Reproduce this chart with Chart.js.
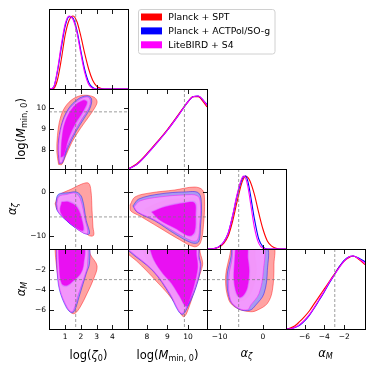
<!DOCTYPE html>
<html><head><meta charset="utf-8">
<script src="https://cdn.jsdelivr.net/npm/chart.js@4.4.0/dist/chart.umd.min.js"></script>
<style>
html,body{margin:0;padding:0;background:#fff;}
#wrap{position:relative;width:374px;height:373px;overflow:hidden;background:#fff;}
#wrap canvas{position:absolute;left:0;top:0;}
</style></head><body><div id="wrap"></div>
<script>
// ---------------- data ----------------
const seriesNames = ['Planck + SPT', 'Planck + ACTPol/SO-g', 'LiteBIRD + S4'];
const seriesColors = ['#ff0000', '#0000ff', '#ff00ff'];

const paramRanges = [[-0.03, 5.0], [7.08, 10.93], [-12.9, 5.3], [-7.87, 0.1]];
const paramTicks = [[1, 2, 3, 4], [8, 9, 10], [-10, 0], [-6, -4, -2]];
const paramTickLabels = [['1', '2', '3', '4'], ['8', '9', '10'], ['\u221210', '0'], ['\u22126', '\u22124', '\u22122']];
const fiducials = [1.67, 9.83, -5.6, -2.95];
const paramLabels = [
  [{t: 'log('}, {t: '\u03b6', it: true}, {t: '0', sub: true}, {t: ')'}],
  [{t: 'log('}, {t: 'M', it: true}, {t: 'min, 0', sub: true}, {t: ')'}],
  [{t: '\u03b1', it: true}, {t: '\u03b6', it: true, sub: true}],
  [{t: '\u03b1', it: true}, {t: 'M', it: true, sub: true}]
];

// 1D marginals
const zetaGrid = [-0.03, 0.25, 0.5, 0.75, 1.0, 1.25, 1.5, 1.75, 2.0, 2.25, 2.5, 2.75, 3.0, 3.25, 3.5, 4.0, 5.0];
const zetaRed = [0, 0.005, 0.12, 0.4, 0.74, 0.94, 1.0, 0.92, 0.72, 0.48, 0.27, 0.12, 0.04, 0.01, 0, 0, 0];
const zetaBlue = [0, 0.02, 0.23, 0.56, 0.86, 0.99, 0.97, 0.8, 0.52, 0.26, 0.09, 0.02, 0, 0, 0, 0, 0];
const zetaMagenta = [0, 0.02, 0.25, 0.6, 0.89, 1.0, 0.95, 0.77, 0.48, 0.22, 0.06, 0.01, 0, 0, 0, 0, 0];

const mminGrid = [7.08, 7.5, 8.0, 8.5, 9.0, 9.5, 10.0, 10.25, 10.5, 10.75, 10.93];
const mminRed = [0, 0.07, 0.21, 0.37, 0.54, 0.73, 0.92, 0.99, 0.99, 0.92, 0.85];
const mminBlue = [0, 0.06, 0.2, 0.36, 0.53, 0.72, 0.92, 0.99, 1.0, 0.94, 0.88];
const mminMagenta = [0, 0.06, 0.2, 0.36, 0.53, 0.72, 0.92, 0.99, 1.0, 0.94, 0.87];

const azGrid = [-12.9, -12, -11, -10, -9, -8, -7, -6, -5, -4.5, -4, -3.5, -3, -2, -1, 0, 1, 2, 3, 4, 5.3];
const azRed = [0, 0, 0.01, 0.03, 0.08, 0.18, 0.38, 0.64, 0.88, 0.96, 1.0, 0.98, 0.93, 0.75, 0.5, 0.27, 0.11, 0.04, 0.01, 0, 0];
const azBlue = [0, 0, 0.01, 0.04, 0.1, 0.22, 0.45, 0.72, 0.93, 0.99, 1.0, 0.93, 0.78, 0.42, 0.14, 0.03, 0, 0, 0, 0, 0];
const azMagenta = [0, 0, 0.01, 0.04, 0.1, 0.22, 0.46, 0.74, 0.95, 1.0, 0.97, 0.86, 0.68, 0.3, 0.08, 0.01, 0, 0, 0, 0, 0];

const amGrid = [-7.87, -7.5, -7, -6.5, -6, -5.5, -5, -4.5, -4, -3.5, -3, -2.5, -2, -1.5, -1.1, -0.5, 0.1];
const amRed = [0, 0.01, 0.04, 0.1, 0.17, 0.25, 0.35, 0.45, 0.55, 0.65, 0.75, 0.85, 0.93, 0.98, 1.0, 0.95, 0.88];
const amBlue = [0, 0, 0.02, 0.05, 0.11, 0.19, 0.29, 0.4, 0.51, 0.63, 0.74, 0.85, 0.94, 0.99, 1.0, 0.97, 0.92];
const amMagenta = [0, 0, 0.02, 0.06, 0.12, 0.2, 0.3, 0.41, 0.52, 0.64, 0.74, 0.84, 0.93, 0.99, 1.0, 0.96, 0.9];

// 2D contours: flat [x1,y1,x2,y2,...], outer (95%) and inner (68%)
// logMmin0 vs logzeta0
const p10RedOuter = [0.58,7.30, 0.47,7.89, 0.51,8.70, 0.68,9.5, 1.00,10.07, 1.53,10.47, 2.17,10.63, 2.81,10.55, 3.03,10.34, 2.92,10.07, 2.49,9.58, 1.96,9.02, 1.43,8.37, 1.00,7.65, 0.79,7.30];
const p10RedInner = [0.79,7.49, 0.68,8.21, 0.88,9.26, 1.4,10.05, 2.1,10.45, 2.6,10.4, 2.55,10.05, 2.1,9.5, 1.62,8.9, 1.1,8.1];
const p10BlueOuter = [0.62,7.35, 0.55,8.2, 0.76,9.2, 1.18,9.95, 1.82,10.45, 2.4,10.6, 2.68,10.45, 2.58,10.0, 2.15,9.45, 1.7,8.9, 1.15,8.05, 0.82,7.38];
const p10BlueInner = [0.72,7.6, 0.76,8.5, 0.97,9.35, 1.5,10.1, 2.17,10.42, 2.45,10.32, 2.25,9.88, 1.7,9.2, 1.25,8.5, 0.92,7.7];
const p10MagOuter = [0.64,7.38, 0.58,8.21, 0.79,9.18, 1.21,9.9, 1.85,10.39, 2.39,10.55, 2.6,10.39, 2.49,9.99, 2.07,9.5, 1.64,8.94, 1.11,8.13, 0.79,7.41];
const p10MagInner = [0.73,7.65, 0.79,8.5, 1.0,9.34, 1.53,10.07, 2.17,10.39, 2.39,10.3, 2.17,9.9, 1.64,9.26, 1.21,8.54, 0.9,7.73];
// alphazeta vs logzeta0
const p20RedOuter = [0.36,-2.6, 0.58,-0.72, 1.43,0.8, 2.07,1.9, 2.49,2.07, 2.64,0.4, 2.71,-4.1, 2.77,-7.9, 2.81,-9.8, 2.49,-9.8, 1.75,-7.2, 0.9,-4.9, 0.51,-4.1];
const p20RedInner = [0.65,-2.3, 0.9,-1.2, 1.6,-0.8, 1.9,-1.8, 2.2,-6.0, 2.3,-8.8, 2.0,-8.8, 1.2,-6.3, 0.7,-4.3];
const p20BlueOuter = [0.41,-2.6, 0.55,-0.5, 1.2,-0.1, 1.75,0.03, 2.07,-1.25, 2.34,-6.4, 2.55,-9.4, 2.17,-9.3, 1.11,-6.5, 0.51,-4.3];
const p20BlueInner = [0.75,-2.1, 1.25,-2.0, 1.8,-3.2, 2.12,-6.4, 2.2,-8.9, 1.7,-8.2, 0.9,-5.8, 0.66,-4.1];
const p20MagOuter = [0.47,-2.6, 0.6,-0.95, 1.1,-0.5, 1.64,-0.2, 1.96,-1.5, 2.28,-6.4, 2.43,-9.3, 2.07,-9.1, 1.11,-6.4, 0.58,-4.5];
const p20MagInner = [0.79,-2.2, 1.21,-2.2, 1.75,-3.4, 2.07,-6.4, 2.13,-8.7, 1.64,-7.9, 0.9,-5.65, 0.68,-4.1];
// alphaM vs logzeta0
const p30RedOuter = [0.35,0.5, 0.36,-0.1, 0.43,-1.4, 0.58,-3.04, 0.79,-4.35, 1.11,-5.67, 1.43,-6.3, 1.64,-6.3, 1.96,-5.67, 2.39,-4.35, 2.81,-2.88, 3.03,-1.58, 2.6,-0.43, 2.45,0.5];
const p30RedInner = [0.5,0.5, 0.55,-2.0, 0.72,-3.8, 1.1,-5.2, 1.45,-5.6, 1.75,-4.3, 2.15,-2.5, 2.35,-1.4, 2.2,0.5];
const p30BlueOuter = [0.43,0.5, 0.48,-2.0, 0.64,-4.0, 1.08,-5.75, 1.4,-6.25, 1.6,-6.05, 1.9,-4.6, 2.35,-2.3, 2.55,-1.3, 2.4,0.5];
const p30BlueInner = [0.58,0.5, 0.62,-2.1, 0.78,-3.5, 1.1,-3.65, 1.55,-3.15, 2.0,-2.4, 2.2,-1.4, 2.17,0.5];
const p30MagOuter = [0.45,0.5, 0.51,-2.07, 0.68,-4.03, 1.11,-5.67, 1.37,-6.15, 1.53,-5.99, 1.85,-4.35, 2.28,-2.39, 2.43,-1.41, 2.28,0.5];
const p30MagInner = [0.56,0.5, 0.64,-2.07, 0.79,-3.37, 1.11,-3.53, 1.53,-3.04, 1.96,-2.39, 2.17,-1.41, 2.13,0.5];
// alphazeta vs logMmin0
const p21RedOuter = [7.18,-2.9, 7.42,-1.06, 8.15,-0.15, 9.36,0.53, 10.32,1.2, 10.71,0.53, 10.81,-1.74, 10.76,-7.4, 10.61,-11.5, 10.32,-12.4, 9.6,-10.8, 8.63,-8.1, 7.66,-5.4, 7.22,-4.25];
const p21RedInner = [7.9,-3.8, 8.8,-2.0, 9.9,-1.3, 10.45,-1.4, 10.5,-5.0, 10.45,-10.0, 10.15,-10.5, 9.36,-8.7, 8.39,-5.9];
const p21BlueOuter = [7.32,-3.1, 7.61,-1.52, 8.63,-0.38, 9.84,0.08, 10.52,-0.15, 10.66,-2.88, 10.61,-7.9, 10.52,-11.3, 10.18,-11.5, 9.36,-9.45, 8.39,-6.5, 7.52,-4.5];
const p21BlueInner = [8.2,-4.4, 8.87,-3.1, 9.84,-2.2, 10.37,-2.2, 10.42,-5.15, 10.37,-9.2, 10.08,-10.1, 9.36,-8.3, 8.6,-6.3];
const p21MagOuter = [7.37,-3.34, 7.66,-1.97, 8.63,-1.06, 9.84,-0.6, 10.47,-0.83, 10.61,-2.88, 10.57,-7.4, 10.47,-10.8, 10.18,-11.0, 9.36,-9.0, 8.39,-6.3, 7.56,-4.5];
const p21MagInner = [8.24,-4.5, 8.87,-3.34, 9.84,-2.43, 10.32,-2.43, 10.37,-5.15, 10.32,-9.0, 10.08,-9.9, 9.36,-8.1, 8.63,-6.3];
// alphaM vs logMmin0
const p31RedOuter = [6.9,0.5, 7.0,-0.2, 7.5,-1.1, 8.0,-2.1, 8.5,-3.2, 9.0,-4.3, 9.4,-5.4, 9.65,-6.35, 9.8,-6.65, 9.95,-6.25, 10.25,-4.5, 10.65,-2.0, 10.72,-1.3, 10.6,-0.3, 10.5,0.5];
const p31RedInner = [7.7,0.5, 8.0,-1.0, 8.5,-2.5, 9.0,-3.6, 9.4,-4.9, 9.72,-5.9, 9.95,-5.4, 10.3,-3.6, 10.5,-1.8, 10.45,-0.6, 10.35,0.5];
const p31BlueOuter = [6.9,0.5, 7.12,-0.1, 8.3,-2.1, 9.1,-4.4, 9.52,-6.05, 9.72,-6.42, 9.9,-6.05, 10.4,-3.7, 10.63,-1.6, 10.55,-0.7, 10.45,0.5];
const p31BlueInner = [8.05,0.5, 8.32,-1.0, 8.78,-2.42, 9.18,-3.35, 9.58,-4.65, 9.89,-5.68, 10.07,-5.15, 10.33,-3.5, 10.5,-1.8, 10.45,-0.6, 10.32,0.5];
const p31MagOuter = [6.9,0.5, 7.19,-0.11, 8.32,-2.07, 9.13,-4.35, 9.54,-5.99, 9.7,-6.31, 9.86,-5.99, 10.35,-3.7, 10.59,-1.58, 10.51,-0.76, 10.4,0.5];
const p31MagInner = [8.1,0.5, 8.35,-1.0, 8.8,-2.4, 9.2,-3.3, 9.6,-4.6, 9.9,-5.6, 10.05,-5.1, 10.3,-3.5, 10.47,-1.8, 10.42,-0.6, 10.3,0.5];
// alphaM vs alphazeta
const p32RedOuter = [-7.47,0.5, -7.47,-0.1, -8.62,-2.72, -7.86,-5.0, -5.92,-5.82, -2.85,-6.15, -1.3,-5.99, 1.0,-5.33, 2.16,-4.03, 2.53,-1.41, 2.16,0.5];
const p32RedInner = [-6.5,0.5, -6.8,-1.0, -7.0,-2.7, -6.6,-4.3, -5.5,-5.0, -4.0,-4.9, -2.5,-4.0, -1.5,-2.1, -1.8,-0.8, -2.2,0.5];
const p32BlueOuter = [-7.3,0.5, -7.3,-0.5, -8.3,-2.7, -7.6,-5.0, -5.5,-5.9, -3.0,-6.0, -1.7,-5.5, 0.22,-4.35, 1.0,-2.07, 0.6,0.5];
const p32BlueInner = [-6.4,0.5, -6.6,-1.0, -6.8,-2.7, -6.4,-4.1, -5.5,-4.8, -4.4,-4.6, -3.4,-3.7, -3.0,-2.1, -3.3,-0.8, -3.6,0.5];
const p32MagOuter = [-7.0,0.5, -7.08,-0.76, -7.86,-2.72, -7.47,-5.0, -5.55,-5.82, -3.5,-5.95, -2.85,-5.5, -0.93,-4.35, 0.08,-2.07, -0.15,0.5];
const p32MagInner = [-6.3,0.5, -6.5,-1.0, -6.7,-2.7, -6.3,-4.0, -5.5,-4.7, -4.5,-4.5, -3.6,-3.7, -3.2,-2.1, -3.5,-0.8, -3.8,0.5];

// ---------------- layout & style ----------------
const W = 374, H = 373;
const gridLeft = 49, gridTop = 9, cellW = 79, cellH = 80;
const diagMax = 1.095;
const tickLen = 4.5;
const FONT = '"DejaVu Sans", "Liberation Sans", sans-serif';
const paleFill = ['rgba(255,153,153,0.9)', 'rgba(153,153,255,0.85)', 'rgba(255,153,255,0.85)'];
const solidFill = ['rgba(255,0,0,0.9)', 'rgba(0,0,255,0.85)', 'rgba(235,0,240,0.88)'];
const edgeCol = ['rgba(255,0,0,0.7)', 'rgba(0,0,255,0.7)', 'rgba(255,0,255,0.7)'];

const wrap = document.getElementById('wrap');

function richDraw(ctx, parts, x, y, size) {
  const segs = [];
  let total = 0;
  for (const p of parts) {
    const fs = p.sub ? size * 0.7 : size;
    const font = (p.it ? 'italic ' : '') + fs + 'px ' + FONT;
    ctx.font = font;
    const m = ctx.measureText(p.t);
    const dy = p.sub ? size * 0.2 : 0;
    segs.push({t: p.t, font, w: m.width, dy});
    total += m.width;
  }
  let cx = x - total / 2;
  for (const s of segs) {
    ctx.font = s.font;
    ctx.fillText(s.t, cx, y + s.dy);
    cx += s.w;
  }
}

function polyPoints(flat) {
  const pts = [];
  for (let i = 0; i < flat.length; i += 2) pts.push({x: flat[i], y: flat[i + 1]});
  pts.push({x: flat[0], y: flat[1]});
  return pts;
}

function contourSets(list) {
  const ds = [];
  for (let s = 0; s < 3; s++) {
    ds.push({data: polyPoints(list[2 * s]), fill: 'shape', backgroundColor: paleFill[s], borderColor: edgeCol[s], borderWidth: 0.6, pointRadius: 0, tension: 0.35, order: 6 - 2 * s});
    ds.push({data: polyPoints(list[2 * s + 1]), fill: 'shape', backgroundColor: solidFill[s], borderColor: edgeCol[s], borderWidth: 0.5, pointRadius: 0, tension: 0.35, order: 5 - 2 * s});
  }
  return ds;
}

function curveSets(grid, vals) {
  return vals.map((v, s) => ({
    data: grid.map((g, i) => ({x: g, y: v[i]})),
    borderColor: seriesColors[s], borderWidth: 1.1, fill: false, pointRadius: 0,
    cubicInterpolationMode: 'monotone', order: 3 - s
  }));
}

function framePlugin(row, col) {
  return {
    id: 'frame' + row + col,
    afterDatasetsDraw(chart) {
      const ctx = chart.ctx, a = chart.chartArea, xs = chart.scales.x, ys = chart.scales.y;
      const diag = row === col;
      ctx.save();
      ctx.strokeStyle = 'rgba(120,120,120,0.9)';
      ctx.lineWidth = 0.8;
      ctx.setLineDash([3, 2]);
      const fx = xs.getPixelForValue(fiducials[col]);
      ctx.beginPath(); ctx.moveTo(fx, a.top); ctx.lineTo(fx, a.bottom); ctx.stroke();
      if (!diag) {
        const fy = ys.getPixelForValue(fiducials[row]);
        ctx.beginPath(); ctx.moveTo(a.left, fy); ctx.lineTo(a.right, fy); ctx.stroke();
      }
      ctx.setLineDash([]);
      ctx.strokeStyle = '#000';
      ctx.lineWidth = 1;
      ctx.strokeRect(a.left + 0.5, a.top + 0.5, a.right - a.left, a.bottom - a.top);
      ctx.lineWidth = 0.9;
      ctx.beginPath();
      for (const v of paramTicks[col]) {
        const px = Math.round(xs.getPixelForValue(v)) + 0.5;
        ctx.moveTo(px, a.bottom + 0.5); ctx.lineTo(px, a.bottom + 0.5 - tickLen);
        ctx.moveTo(px, a.top + 0.5); ctx.lineTo(px, a.top + 0.5 + tickLen);
      }
      if (!diag) {
        for (const v of paramTicks[row]) {
          const py = Math.round(ys.getPixelForValue(v)) + 0.5;
          ctx.moveTo(a.left + 0.5, py); ctx.lineTo(a.left + 0.5 + tickLen, py);
          ctx.moveTo(a.right + 0.5, py); ctx.lineTo(a.right + 0.5 - tickLen, py);
        }
      }
      ctx.stroke();
      ctx.fillStyle = '#000';
      ctx.font = '7.5px ' + FONT;
      if (row === 3) {
        ctx.textAlign = 'center'; ctx.textBaseline = 'top';
        paramTicks[col].forEach((v, i) => {
          ctx.fillText(paramTickLabels[col][i], xs.getPixelForValue(v), a.bottom + 4);
        });
        ctx.textAlign = 'left'; ctx.textBaseline = 'alphabetic';
        const base = col < 2 ? 359 : 356.5;
        richDraw(ctx, paramLabels[col], (a.left + a.right) / 2, base, 11.5);
      }
      if (col === 0 && row > 0) {
        ctx.font = '7.5px ' + FONT;
        ctx.textAlign = 'right'; ctx.textBaseline = 'middle';
        paramTicks[row].forEach((v, i) => {
          ctx.fillText(paramTickLabels[row][i], a.left - 3, ys.getPixelForValue(v));
        });
        ctx.textAlign = 'left'; ctx.textBaseline = 'alphabetic';
        const bx = [0, 25, 16, 24.5][row];
        ctx.save();
        ctx.translate(bx, (a.top + a.bottom) / 2);
        ctx.rotate(-Math.PI / 2);
        richDraw(ctx, paramLabels[row], 0, 0, 11.5);
        ctx.restore();
      }
      ctx.restore();
    }
  };
}

const legendPlugin = {
  id: 'legendBox',
  afterDraw(chart) {
    const ctx = chart.ctx;
    ctx.save();
    const x = 138.5, y = 9.5, w = 136.5, h = 44.5, r = 2.5;
    ctx.beginPath();
    ctx.moveTo(x + r, y); ctx.lineTo(x + w - r, y); ctx.quadraticCurveTo(x + w, y, x + w, y + r);
    ctx.lineTo(x + w, y + h - r); ctx.quadraticCurveTo(x + w, y + h, x + w - r, y + h);
    ctx.lineTo(x + r, y + h); ctx.quadraticCurveTo(x, y + h, x, y + h - r);
    ctx.lineTo(x, y + r); ctx.quadraticCurveTo(x, y, x + r, y);
    ctx.closePath();
    ctx.fillStyle = 'rgba(255,255,255,0.9)'; ctx.fill();
    ctx.strokeStyle = '#d0d0d0'; ctx.lineWidth = 1; ctx.stroke();
    ctx.font = '9.3px ' + FONT;
    ctx.textBaseline = 'middle'; ctx.textAlign = 'left';
    seriesNames.forEach((name, i) => {
      const cy = 17 + i * 13.9;
      ctx.fillStyle = seriesColors[i];
      ctx.fillRect(141, cy - 3.5, 21, 7);
      ctx.fillStyle = '#000';
      ctx.fillText(name, 168.3, cy + 0.5);
    });
    ctx.restore();
  }
};

function makeChart(row, col, datasets, extraPlugins) {
  const cv = document.createElement('canvas');
  cv.width = W; cv.height = H;
  cv.style.width = W + 'px'; cv.style.height = H + 'px';
  wrap.appendChild(cv);
  const x0 = gridLeft + col * cellW, y0 = gridTop + row * cellH;
  const xr = paramRanges[col];
  const yr = row === col ? [0, diagMax] : paramRanges[row];
  return new Chart(cv, {
    type: 'line',
    data: {datasets},
    options: {
      responsive: false, animation: false, devicePixelRatio: 1,
      layout: {padding: {left: x0, top: y0, right: W - (x0 + cellW), bottom: H - (y0 + cellH)}},
      scales: {
        x: {type: 'linear', min: xr[0], max: xr[1], display: false},
        y: {type: 'linear', min: yr[0], max: yr[1], display: false}
      },
      plugins: {legend: {display: false}, tooltip: {enabled: false}},
      elements: {point: {radius: 0}}
    },
    plugins: [framePlugin(row, col)].concat(extraPlugins || [])
  });
}

makeChart(0, 0, curveSets(zetaGrid, [zetaRed, zetaBlue, zetaMagenta]), [legendPlugin]);
makeChart(1, 1, curveSets(mminGrid, [mminRed, mminBlue, mminMagenta]));
makeChart(2, 2, curveSets(azGrid, [azRed, azBlue, azMagenta]));
makeChart(3, 3, curveSets(amGrid, [amRed, amBlue, amMagenta]));
makeChart(1, 0, contourSets([p10RedOuter, p10RedInner, p10BlueOuter, p10BlueInner, p10MagOuter, p10MagInner]));
makeChart(2, 0, contourSets([p20RedOuter, p20RedInner, p20BlueOuter, p20BlueInner, p20MagOuter, p20MagInner]));
makeChart(3, 0, contourSets([p30RedOuter, p30RedInner, p30BlueOuter, p30BlueInner, p30MagOuter, p30MagInner]));
makeChart(2, 1, contourSets([p21RedOuter, p21RedInner, p21BlueOuter, p21BlueInner, p21MagOuter, p21MagInner]));
makeChart(3, 1, contourSets([p31RedOuter, p31RedInner, p31BlueOuter, p31BlueInner, p31MagOuter, p31MagInner]));
makeChart(3, 2, contourSets([p32RedOuter, p32RedInner, p32BlueOuter, p32BlueInner, p32MagOuter, p32MagInner]));
</script></body></html>
